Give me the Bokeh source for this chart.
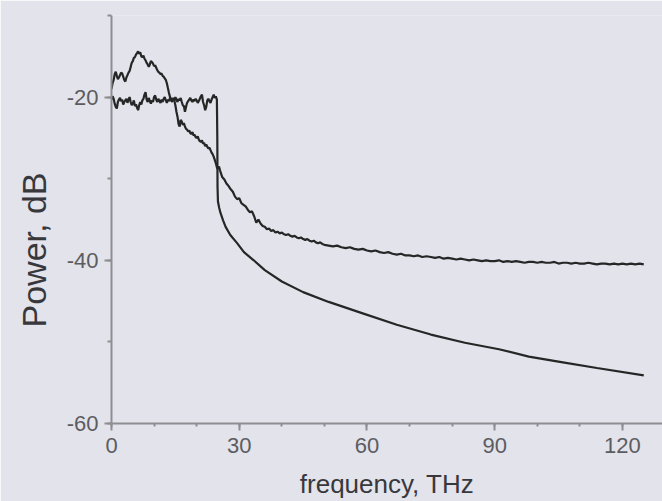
import numpy as np
from bokeh.plotting import figure
from bokeh.models import Range1d, SingleIntervalTicker, Title, PrintfTickFormatter
from bokeh.embed import file_html
from bokeh.resources import INLINE

# ---------------- data ----------------
# Curve A: flat noisy band (~-20 dB) up to ~25 THz, then sharp cut and smooth decay
a_noise_freq = np.round(np.arange(0.0, 25.0, 0.25), 2)
a_noise_power = [
    -20.3, -19.9, -20.2, -20.8, -21.2, -21.4, -20.6, -20.3, -20.1, -20.5,
    -20.3, -20.9, -20.6, -20.4, -20.2, -20.7, -20.3, -20.0, -20.6, -21.0,
    -20.8, -20.4, -21.1, -20.9, -21.3, -21.6, -21.0, -20.6, -20.9, -20.4,
    -20.2, -19.7, -19.4, -20.3, -20.6, -20.1, -20.5, -20.8, -20.4, -20.6,
    -20.0, -19.8, -20.3, -20.6, -20.2, -20.5, -20.7, -20.3, -20.6, -20.2,
    -20.0, -20.4, -20.7, -20.3, -20.5, -20.1, -20.4, -20.6, -20.2, -20.4,
    -20.0, -20.3, -20.6, -20.2, -20.4, -20.1, -20.6, -21.0, -21.1, -21.8,
    -21.2, -20.7, -20.5, -20.3, -20.1, -20.4, -20.6, -20.3, -20.5, -20.2,
    -20.4, -20.7, -20.5, -20.2, -19.9, -19.7, -20.6, -21.0, -21.6, -21.2,
    -20.4, -20.2, -20.5, -20.7, -20.3, -20.0, -19.7, -20.1, -19.9, -20.3,
]
a_tail_freq = [24.85, 24.9, 25.0, 25.3, 25.6, 26.2, 26.8, 27.9, 29.5, 31.1,
               33.4, 36, 40, 45, 51, 59, 67, 75, 83, 91, 98, 106, 114, 125]
a_tail_power = [-25.0, -31.0, -32.8, -33.6, -34.2, -35.1, -35.9, -36.9, -37.9, -39.0,
                -40.0, -41.2, -42.6, -43.9, -45.1, -46.5, -47.9, -49.1, -50.1, -50.9,
                -51.8, -52.5, -53.2, -54.1]

# Curve B: hump near 6 THz, gradual roll-off, then slow decay to ~-40 dB
b_low_freq = np.round(np.arange(0.0, 26.01, 0.25), 2)
b_low_power = [
    -19.0, -18.3, -17.9, -17.2, -16.9, -17.4, -17.8, -17.6, -17.3, -17.0,
    -17.1, -17.5, -17.9, -18.1, -17.6, -17.3, -17.0, -16.8, -16.3, -15.8,
    -15.6, -15.2, -15.1, -14.8, -14.6, -14.4, -14.7, -14.5, -15.0, -15.1,
    -14.9, -15.3, -15.5, -15.8, -16.0, -16.3, -16.0, -15.6, -15.7, -15.9,
    -16.2, -16.1, -16.4, -16.7, -16.9, -17.0, -17.2, -17.1, -17.4, -17.5,
    -17.7, -17.9, -18.3, -18.9, -19.5, -20.0, -20.2, -20.4, -20.1, -20.4,
    -21.0, -21.8, -22.4, -23.3, -23.6, -22.8, -23.0, -23.4, -23.2, -23.6,
    -23.9, -24.0, -24.2, -24.1, -24.4, -24.5, -24.3, -24.7, -24.6, -24.9,
    -25.0, -24.8, -25.2, -25.4, -25.5, -25.3, -25.7, -25.6, -26.0, -25.8,
    -26.1, -26.3, -26.2, -26.5, -26.8, -27.0, -27.3, -27.7, -28.1, -28.6,
    -28.8, -28.5, -29.0, -29.4, -29.8,
]
b_mid_freq = np.round(np.arange(26.5, 50.01, 0.5), 2)
b_mid_power = [
    -30.1, -30.6, -30.9, -31.3, -31.6, -32.2, -32.5, -32.4,
    -33.0, -33.2, -33.4, -33.8, -34.1, -34.0, -34.6, -35.4,
    -35.0, -35.5, -35.8, -35.9, -36.2, -36.1, -36.4, -36.3,
    -36.6, -36.5, -36.7, -36.6, -36.8, -36.9, -36.8, -37.0,
    -37.1, -37.0, -37.2, -37.3, -37.2, -37.4, -37.5, -37.4,
    -37.6, -37.7, -37.6, -37.8, -37.9, -37.8, -38.0, -38.1,
]
b_high_freq = np.arange(51, 126, 1)
b_high_power = [
    -38.2, -38.3, -38.2, -38.4, -38.5, -38.4, -38.6, -38.7, -38.6, -38.8,
    -38.9, -38.8, -39.0, -39.1, -39.0, -39.2, -39.3, -39.2, -39.4, -39.4,
    -39.5, -39.4, -39.6, -39.5, -39.6, -39.7, -39.6, -39.8, -39.7, -39.8,
    -39.9, -39.8, -39.9, -40.0, -39.9, -40.0, -40.1, -40.0, -40.1, -40.1,
    -40.0, -40.2, -40.1, -40.2, -40.1, -40.2, -40.3, -40.2, -40.2, -40.3,
    -40.2, -40.3, -40.3, -40.2, -40.4, -40.3, -40.3, -40.4, -40.3, -40.4,
    -40.4, -40.3, -40.4, -40.5, -40.4, -40.4, -40.5, -40.4, -40.5, -40.4,
    -40.5, -40.4, -40.5, -40.4, -40.5,
]

x_label = "frequency, THz"
y_label = "Power, dB"

# ---------------- figure ----------------
BG = "#e2e3eb"
AXIS = "#8e8e92"
LINE = "#262626"

p = figure(width=662, height=501, output_backend="svg", toolbar_location=None,
           x_range=Range1d(0, 129.4), y_range=Range1d(-60, -10),
           min_border_left=111, min_border_right=0, min_border_top=15,
           min_border_bottom=78)
p.background_fill_color = BG
p.border_fill_color = BG
p.outline_line_color = None
p.xgrid.grid_line_color = None
p.ygrid.grid_line_color = None

a_freq = list(a_noise_freq) + a_tail_freq
a_power = a_noise_power + a_tail_power
b_freq = list(b_low_freq) + list(b_mid_freq) + list(b_high_freq)
b_power = b_low_power + b_mid_power + b_high_power

p.line(a_freq, a_power, line_color=LINE, line_width=2.2)
p.line(b_freq, b_power, line_color=LINE, line_width=2.2)

p.xaxis.ticker = SingleIntervalTicker(interval=30, num_minor_ticks=3)
p.yaxis.ticker = SingleIntervalTicker(interval=20, num_minor_ticks=2)
p.xaxis.formatter = PrintfTickFormatter(format="%d")
p.yaxis.formatter = PrintfTickFormatter(format="%d")

for ax in (p.xaxis[0], p.yaxis[0]):
    ax.axis_line_color = AXIS
    ax.axis_line_width = 2
    ax.major_tick_line_color = AXIS
    ax.major_tick_line_width = 2
    ax.major_tick_out = 7
    ax.major_tick_in = 0
    ax.minor_tick_line_color = AXIS
    ax.minor_tick_line_width = 2
    ax.minor_tick_out = 4
    ax.minor_tick_in = 0
    ax.major_label_text_font = "Liberation Sans"
    ax.major_label_text_font_size = "22px"
    ax.major_label_text_color = "#5c5c60"

p.xaxis.minor_tick_out = 3
p.xaxis.major_label_standoff = 7
p.yaxis.major_label_standoff = 6

p.xaxis.axis_label = x_label
p.xaxis.axis_label_text_font = "Liberation Sans"
p.xaxis.axis_label_text_font_style = "normal"
p.xaxis.axis_label_text_font_size = "26px"
p.xaxis.axis_label_text_color = "#38383c"
p.xaxis.axis_label_standoff = 13

ytitle = Title(text=y_label, align="left", offset=96, standoff=21,
               text_font="Liberation Sans", text_font_size="34px",
               text_font_style="normal", text_color="#38383c")
p.add_layout(ytitle, "left")

open("out.html", "w").write(file_html(p, INLINE))
